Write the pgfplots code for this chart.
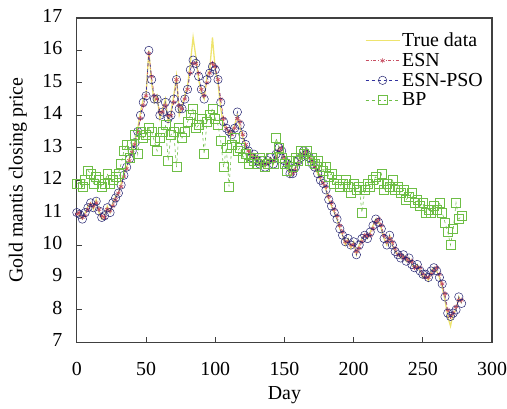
\documentclass[border=0pt]{standalone}
\usepackage{pgfplots}
\pgfplotsset{compat=1.18}
\usepackage{pgfplotstable}
\usetikzlibrary{calc}
\usepackage{fontspec}
\setmainfont{Liberation Serif}
\definecolor{truec}{RGB}{238,228,110}
\definecolor{esnc}{RGB}{200,80,100}
\definecolor{psoc}{RGB}{50,50,160}
\definecolor{bpc}{RGB}{110,190,70}
\pgfplotstableread{
x T E P B
0 11.0 10.95 11.0 11.9
2 10.9 11.0 10.95 11.9
4 10.8 10.85 10.8 11.8
6 11.0 10.9 11.0 12.0
8 11.2 11.1 11.15 12.3
10 11.3 11.25 11.3 12.2
12 11.1 11.2 11.15 11.9
14 11.4 11.3 11.35 12.1
16 11.0 11.1 11.05 12.0
18 10.8 10.9 10.85 11.8
20 10.9 10.85 10.9 11.9
22 11.2 11.1 11.15 12.2
24 11.0 11.05 11.0 11.9
26 11.3 11.2 11.3 12.0
28 11.5 11.4 11.45 12.1
30 11.6 11.6 11.6 12.2
32 11.9 11.8 11.85 12.5
34 12.2 12.1 12.15 12.9
36 12.4 12.35 12.4 13.1
38 12.7 12.6 12.65 12.7
40 12.9 12.85 12.9 13.1
42 13.2 13.1 13.15 13.4
44 13.6 13.5 13.5 12.8
46 14.1 13.9 14.0 13.5
48 14.5 14.3 14.4 13.3
50 14.6 14.6 14.6 13.4
52 16.0 15.9 16.0 13.6
54 15.0 15.2 15.1 13.5
56 14.4 14.6 14.5 13.2
58 14.6 14.5 14.5 12.9
60 13.9 14.1 14.0 13.3
62 14.2 14.1 14.1 13.5
64 14.5 14.3 14.4 13.7
66 13.8 14.0 13.9 12.6
68 14.1 14.0 14.0 13.4
70 14.6 14.4 14.5 13.5
72 15.2 15.1 15.1 12.4
74 14.0 14.3 14.2 13.6
76 14.3 14.2 14.2 13.3
78 14.6 14.5 14.5 13.5
80 14.9 14.8 14.8 13.8
82 15.6 15.3 15.4 14.0
84 16.4 15.6 15.7 14.2
86 15.8 15.6 15.6 13.6
88 15.1 15.3 15.2 13.7
90 14.7 14.8 14.8 13.9
92 14.5 14.6 14.5 12.8
94 15.2 15.0 15.1 13.8
96 15.4 15.3 15.3 14.0
98 16.4 15.6 15.5 14.2
100 15.4 15.5 15.4 13.9
102 15.0 15.1 15.1 13.7
104 14.2 14.5 14.4 13.2
106 13.7 13.9 13.8 12.4
108 13.6 13.6 13.6 13.0
110 13.4 13.5 13.5 11.8
112 13.5 13.4 13.4 13.1
114 13.7 13.6 13.6 13.3
116 14.0 13.9 14.1 12.9
118 13.6 13.8 13.7 13.0
120 13.3 13.4 13.4 12.7
122 13.0 13.1 13.1 12.8
124 12.9 12.9 12.9 12.5
126 12.7 12.8 12.7 12.7
128 12.8 12.7 12.8 12.6
130 12.6 12.7 12.6 12.5
132 12.5 12.5 12.5 12.7
134 12.6 12.5 12.6 12.6
136 12.4 12.5 12.4 12.4
138 12.6 12.5 12.6 12.5
140 12.7 12.6 12.7 12.7
142 12.5 12.6 12.5 12.5
144 12.8 12.7 12.8 13.3
146 13.0 12.9 13.0 13.0
148 12.9 13.0 12.9 12.7
150 12.6 12.7 12.6 12.5
152 12.5 12.5 12.5 12.3
154 12.1 12.3 12.2 12.6
156 12.3 12.2 12.2 12.4
158 12.4 12.3 12.4 12.7
160 12.6 12.5 12.6 12.6
162 12.8 12.7 12.7 12.9
164 12.9 12.8 12.9 12.8
166 12.8 12.9 12.8 12.9
168 12.7 12.7 12.7 12.6
170 12.5 12.6 12.5 12.7
172 12.4 12.4 12.4 12.5
174 12.2 12.3 12.2 12.6
176 12.0 12.1 12.0 12.4
178 11.9 11.9 11.9 12.3
180 11.7 11.8 11.7 12.4
182 11.4 11.5 11.4 12.1
184 11.2 11.3 11.2 12.2
186 11.0 11.1 11.0 11.9
188 10.8 10.9 10.8 12.0
190 10.5 10.6 10.5 11.8
192 10.3 10.4 10.3 11.9
194 10.0 10.1 10.1 12.0
196 10.2 10.1 10.2 11.8
198 9.9 10.0 10.0 11.6
200 10.1 10.0 10.1 11.9
202 9.7 9.8 9.7 11.7
204 10.0 9.9 10.0 11.8
206 10.2 10.1 10.2 11.0
208 10.3 10.3 10.3 11.7
210 10.2 10.3 10.2 11.9
212 10.4 10.3 10.4 11.8
214 10.6 10.5 10.6 12.0
216 10.8 10.7 10.8 12.1
218 10.7 10.8 10.7 11.9
220 10.5 10.6 10.5 12.2
222 10.2 10.3 10.2 11.7
224 10.0 10.1 10.0 11.9
226 10.3 10.2 10.3 11.8
228 10.0 10.1 10.0 12.0
230 9.8 9.9 9.8 11.7
232 9.7 9.7 9.7 11.8
234 9.6 9.7 9.6 11.6
236 9.7 9.6 9.7 11.7
238 9.5 9.6 9.5 11.4
240 9.6 9.5 9.6 11.5
242 9.4 9.5 9.4 11.6
244 9.3 9.3 9.3 11.3
246 9.4 9.3 9.4 11.4
248 9.2 9.3 9.2 11.2
250 9.0 9.1 9.1 11.3
252 9.1 9.0 9.1 11.0
254 8.9 9.0 9.0 11.1
256 9.2 9.1 9.2 11.0
258 9.3 9.2 9.3 11.2
260 9.2 9.3 9.2 11.1
262 9.0 9.1 9.0 11.3
264 8.7 8.8 8.8 11.0
266 8.3 8.5 8.4 10.7
268 7.8 8.0 7.9 10.4
270 7.5 7.8 7.8 10.0
272 7.9 7.9 7.9 10.5
274 8.0 8.1 8.0 11.3
276 8.4 8.3 8.4 10.8
278 8.2 8.3 8.2 10.9
}\data
\begin{document}
\begin{tikzpicture}
\begin{axis}[
  scale only axis, width=416bp, height=325bp,
  xmin=0, xmax=300, ymin=7, ymax=17,
  xtick={0,50,...,300}, ytick={7,8,...,17},
  tick align=inside, xtick pos=bottom, ytick pos=left,
  major tick length=5bp,
  axis line style={line width=1.1pt, color=black!75},
  every tick/.style={black!75, line width=1pt},
  tick label style={font=\fontsize{20}{22}\selectfont},
  label style={font=\fontsize{20}{22}\selectfont},
  xlabel={Day}, ylabel={Gold mantis closing price},
  xlabel style={at={(axis description cs:0.5,-0.163)}, anchor=center, inner sep=0pt},
  ylabel style={at={(axis description cs:-0.1418,0.5)}, anchor=center, inner sep=0pt},
  xticklabel style={inner sep=0pt, yshift=-19.3bp},
  yticklabel style={xshift=-11bp, yshift=2bp},
  /pgf/number format/assume math mode=true,
  legend style={draw=none, fill=none, at={(1,1)}, anchor=north east,
    xshift=-6bp, yshift=-12bp,
    font=\fontsize{20}{22}\selectfont, row sep=1pt, inner sep=1pt},
  legend cell align=left,
  legend image code/.code={\draw[mark repeat=2,mark phase=2] plot coordinates {(0cm,0cm)(0.6cm,0cm)(1.2cm,0cm)};},
]
\addplot[truec, line width=1.3pt, no markers] table[x=x,y=T]{\data};
\addlegendentry{True data}
\addplot[esnc, line width=0.6pt, dash dot, mark=asterisk, mark size=2.5bp, mark options={solid}] table[x=x,y=E]{\data};
\addlegendentry{ESN}
\addplot[psoc, line width=0.6pt, dashed, mark=o, mark size=4.2bp, mark options={solid, line width=0.5pt, draw=psoc!70!black}] table[x=x,y=P]{\data};
\addlegendentry{ESN-PSO}
\addplot[bpc, line width=0.6pt, dashed, mark=square, mark size=4.5bp, mark options={solid, line width=0.6pt}] table[x=x,y=B]{\data};
\addlegendentry{BP}
\end{axis}
\path ($(current axis.south west)+(-77bp,-66bp)$) rectangle ($(current axis.north east)+(15bp,18bp)$);
\end{tikzpicture}
\end{document}
